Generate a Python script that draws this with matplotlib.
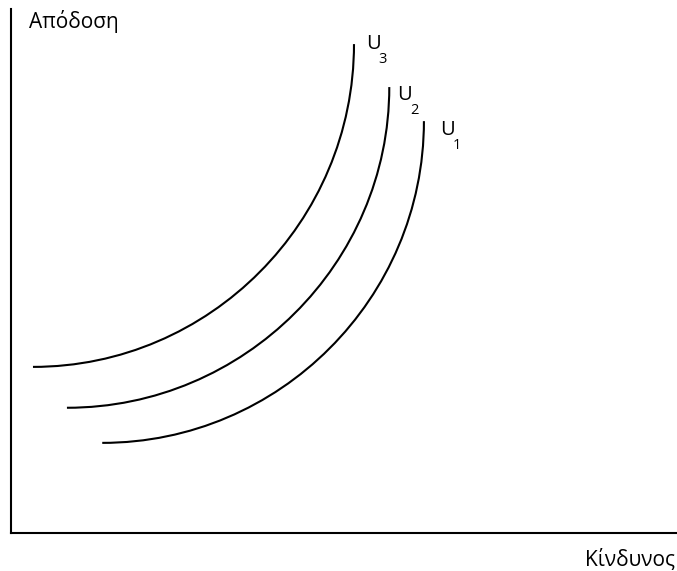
import matplotlib
matplotlib.use('Agg')
import matplotlib.pyplot as plt
from matplotlib.path import Path
from matplotlib.patches import PathPatch

# indifference curves, each a cubic bezier: start, two control points, end
curve_names = ['3', '2', '1']
start_pts = [(3.3, 31.7), (8.4, 23.9), (13.7, 17.2)]
ctrl1_pts = [(29.8, 31.7), (35.0, 23.9), (40.3, 17.2)]
ctrl2_pts = [(51.5, 59.4), (56.8, 51.5), (62.0, 44.8)]
end_pts = [(51.5, 93.3), (56.8, 85.1), (62.0, 78.6)]
label_pts = [(53.3, 92.4), (58.0, 82.6), (64.4, 76.0)]

y_label = 'Απόδοση'
x_label = 'Κίνδυνος'

plt.rcParams['font.family'] = ['Open Sans', 'DejaVu Sans']

fig = plt.figure(figsize=(6.77, 5.71), dpi=100)
ax = fig.add_axes([11/677, 38/571, 666/677, 524/571])
ax.set_xlim(0, 100)
ax.set_ylim(0, 100)
for s in ['top', 'right']:
    ax.spines[s].set_visible(False)
for s in ['left', 'bottom']:
    ax.spines[s].set_linewidth(1.5)
ax.set_xticks([])
ax.set_yticks([])

for p0, p1, p2, p3 in zip(start_pts, ctrl1_pts, ctrl2_pts, end_pts):
    path = Path([p0, p1, p2, p3], [Path.MOVETO, Path.CURVE4, Path.CURVE4, Path.CURVE4])
    ax.add_patch(PathPatch(path, facecolor='none', edgecolor='black', lw=1.5))

for name, (lx, ly) in zip(curve_names, label_pts):
    t = ax.text(lx, ly, 'U', fontsize=14.5, va='baseline', ha='left')
    ax.annotate(name, xy=(1, 0), xycoords=t, xytext=(-1.5, -6.5),
                textcoords='offset points', fontsize=10.5, va='baseline', ha='left')

ax.text(2.7, 96.4, y_label, fontsize=15, va='baseline', ha='left')
fig.text(675/677, 5/571, x_label, fontsize=15, va='baseline', ha='right')

fig.savefig('out.png', dpi=100)
